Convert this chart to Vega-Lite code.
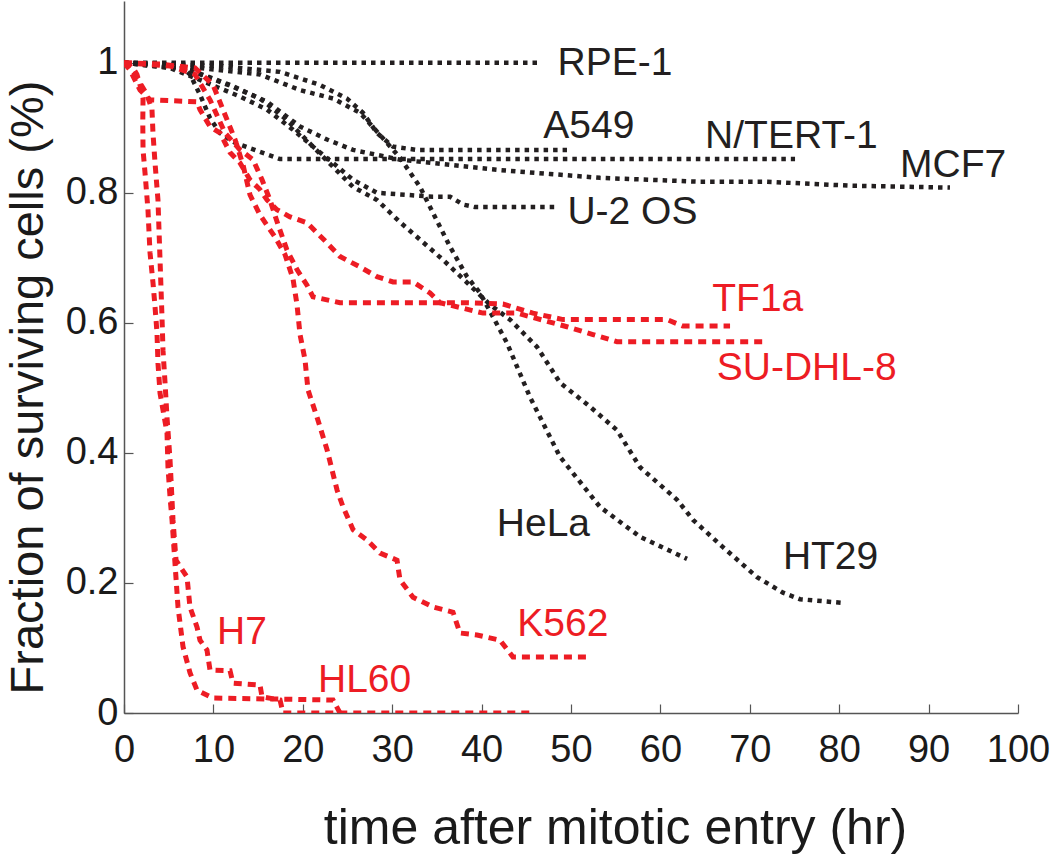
{
  "$schema": "https://vega.github.io/schema/vega-lite/v6.json",
  "width": 894,
  "height": 712,
  "autosize": {"type": "none"},
  "padding": {"left": 124, "top": 1, "right": 32, "bottom": 146},
  "background": "white",
  "config": {"view": {"stroke": null}, "font": "Liberation Sans"},
  "datasets": {
    "curves": [
      {"c":"RPE-1","g":"k","o":0,"t":0,"f":1},{"c":"RPE-1","g":"k","o":1,"t":46.5,"f":1},

      {"c":"A549","g":"k","o":0,"t":0,"f":1},{"c":"A549","g":"k","o":1,"t":10.74,"f":0.995},{"c":"A549","g":"k","o":2,"t":17.45,"f":0.986},{"c":"A549","g":"k","o":3,"t":21.92,"f":0.966},{"c":"A549","g":"k","o":4,"t":24.94,"f":0.945},{"c":"A549","g":"k","o":5,"t":26.73,"f":0.923},{"c":"A549","g":"k","o":6,"t":28.3,"f":0.892},{"c":"A549","g":"k","o":7,"t":30.09,"f":0.871},{"c":"A549","g":"k","o":8,"t":32.77,"f":0.866},{"c":"A549","g":"k","o":9,"t":49.55,"f":0.866},

      {"c":"HeLa","g":"k","o":0,"t":0,"f":1},{"c":"HeLa","g":"k","o":1,"t":8.5,"f":0.992},{"c":"HeLa","g":"k","o":2,"t":15.21,"f":0.982},{"c":"HeLa","g":"k","o":3,"t":19.69,"f":0.958},{"c":"HeLa","g":"k","o":4,"t":23.38,"f":0.945},{"c":"HeLa","g":"k","o":5,"t":26.4,"f":0.923},{"c":"HeLa","g":"k","o":6,"t":28.64,"f":0.889},{"c":"HeLa","g":"k","o":7,"t":30.87,"f":0.854},{"c":"HeLa","g":"k","o":8,"t":33.11,"f":0.809},{"c":"HeLa","g":"k","o":9,"t":34.56,"f":0.769},{"c":"HeLa","g":"k","o":10,"t":36.47,"f":0.717},{"c":"HeLa","g":"k","o":11,"t":38.37,"f":0.671},{"c":"HeLa","g":"k","o":12,"t":39.82,"f":0.646},{"c":"HeLa","g":"k","o":13,"t":41.28,"f":0.609},{"c":"HeLa","g":"k","o":14,"t":42.84,"f":0.569},{"c":"HeLa","g":"k","o":15,"t":45.41,"f":0.486},{"c":"HeLa","g":"k","o":16,"t":48.77,"f":0.394},{"c":"HeLa","g":"k","o":17,"t":53.24,"f":0.317},{"c":"HeLa","g":"k","o":18,"t":57.72,"f":0.271},{"c":"HeLa","g":"k","o":19,"t":62.98,"f":0.237},

      {"c":"MCF7","g":"k","o":0,"t":0,"f":1},{"c":"MCF7","g":"k","o":1,"t":7.38,"f":0.989},{"c":"MCF7","g":"k","o":2,"t":11.86,"f":0.966},{"c":"MCF7","g":"k","o":3,"t":16.0,"f":0.94},{"c":"MCF7","g":"k","o":4,"t":19.69,"f":0.902},{"c":"MCF7","g":"k","o":5,"t":22.71,"f":0.882},{"c":"MCF7","g":"k","o":6,"t":25.62,"f":0.866},{"c":"MCF7","g":"k","o":7,"t":30.87,"f":0.851},{"c":"MCF7","g":"k","o":8,"t":36.47,"f":0.843},{"c":"MCF7","g":"k","o":9,"t":42.06,"f":0.835},{"c":"MCF7","g":"k","o":10,"t":47.65,"f":0.829},{"c":"MCF7","g":"k","o":11,"t":53.24,"f":0.823},{"c":"MCF7","g":"k","o":12,"t":64.43,"f":0.817},{"c":"MCF7","g":"k","o":13,"t":71.92,"f":0.817},{"c":"MCF7","g":"k","o":14,"t":81.21,"f":0.811},{"c":"MCF7","g":"k","o":15,"t":92.39,"f":0.808},

      {"c":"N/TERT-1","g":"k","o":0,"t":0,"f":1},{"c":"N/TERT-1","g":"k","o":1,"t":6.26,"f":0.997},{"c":"N/TERT-1","g":"k","o":2,"t":7.38,"f":0.982},{"c":"N/TERT-1","g":"k","o":3,"t":8.5,"f":0.951},{"c":"N/TERT-1","g":"k","o":4,"t":9.62,"f":0.915},{"c":"N/TERT-1","g":"k","o":5,"t":10.74,"f":0.892},{"c":"N/TERT-1","g":"k","o":6,"t":12.42,"f":0.877},{"c":"N/TERT-1","g":"k","o":7,"t":15.21,"f":0.863},{"c":"N/TERT-1","g":"k","o":8,"t":17.45,"f":0.852},{"c":"N/TERT-1","g":"k","o":9,"t":75.06,"f":0.852},

      {"c":"U-2 OS","g":"k","o":0,"t":0,"f":1},{"c":"U-2 OS","g":"k","o":1,"t":5.15,"f":0.992},{"c":"U-2 OS","g":"k","o":2,"t":7.72,"f":0.978},{"c":"U-2 OS","g":"k","o":3,"t":12.98,"f":0.948},{"c":"U-2 OS","g":"k","o":4,"t":16.0,"f":0.928},{"c":"U-2 OS","g":"k","o":5,"t":18.9,"f":0.897},{"c":"U-2 OS","g":"k","o":6,"t":21.14,"f":0.871},{"c":"U-2 OS","g":"k","o":7,"t":23.38,"f":0.846},{"c":"U-2 OS","g":"k","o":8,"t":25.62,"f":0.82},{"c":"U-2 OS","g":"k","o":9,"t":28.3,"f":0.8},{"c":"U-2 OS","g":"k","o":10,"t":34.56,"f":0.794},{"c":"U-2 OS","g":"k","o":11,"t":36.47,"f":0.794},{"c":"U-2 OS","g":"k","o":12,"t":37.92,"f":0.782},{"c":"U-2 OS","g":"k","o":13,"t":39.26,"f":0.778},{"c":"U-2 OS","g":"k","o":14,"t":48.21,"f":0.778},

      {"c":"HT29","g":"k","o":0,"t":0,"f":1},{"c":"HT29","g":"k","o":1,"t":6.26,"f":0.994},{"c":"HT29","g":"k","o":2,"t":12.19,"f":0.963},{"c":"HT29","g":"k","o":3,"t":15.21,"f":0.945},{"c":"HT29","g":"k","o":4,"t":18.23,"f":0.912},{"c":"HT29","g":"k","o":5,"t":21.14,"f":0.871},{"c":"HT29","g":"k","o":6,"t":23.38,"f":0.84},{"c":"HT29","g":"k","o":7,"t":25.62,"f":0.809},{"c":"HT29","g":"k","o":8,"t":28.3,"f":0.789},{"c":"HT29","g":"k","o":9,"t":30.87,"f":0.755},{"c":"HT29","g":"k","o":10,"t":33.11,"f":0.728},{"c":"HT29","g":"k","o":11,"t":35.68,"f":0.697},{"c":"HT29","g":"k","o":12,"t":38.37,"f":0.662},{"c":"HT29","g":"k","o":13,"t":40.94,"f":0.628},{"c":"HT29","g":"k","o":14,"t":43.18,"f":0.605},{"c":"HT29","g":"k","o":15,"t":46.2,"f":0.563},{"c":"HT29","g":"k","o":16,"t":48.77,"f":0.508},{"c":"HT29","g":"k","o":17,"t":52.13,"f":0.471},{"c":"HT29","g":"k","o":18,"t":55.15,"f":0.435},{"c":"HT29","g":"k","o":19,"t":57.72,"f":0.378},{"c":"HT29","g":"k","o":20,"t":61.86,"f":0.328},{"c":"HT29","g":"k","o":21,"t":63.65,"f":0.297},{"c":"HT29","g":"k","o":22,"t":67.0,"f":0.255},{"c":"HT29","g":"k","o":23,"t":70.81,"f":0.209},{"c":"HT29","g":"k","o":24,"t":73.71,"f":0.185},{"c":"HT29","g":"k","o":25,"t":75.62,"f":0.175},{"c":"HT29","g":"k","o":26,"t":80.65,"f":0.169},

      {"c":"TF1a","g":"r","o":0,"t":0,"f":1},{"c":"TF1a","g":"r","o":1,"t":5.15,"f":0.995},{"c":"TF1a","g":"r","o":2,"t":7.94,"f":0.982},{"c":"TF1a","g":"r","o":3,"t":9.62,"f":0.943},{"c":"TF1a","g":"r","o":4,"t":11.3,"f":0.892},{"c":"TF1a","g":"r","o":5,"t":12.98,"f":0.866},{"c":"TF1a","g":"r","o":6,"t":14.43,"f":0.851},{"c":"TF1a","g":"r","o":7,"t":15.44,"f":0.82},{"c":"TF1a","g":"r","o":8,"t":16.33,"f":0.789},{"c":"TF1a","g":"r","o":9,"t":17.23,"f":0.751},{"c":"TF1a","g":"r","o":10,"t":18.23,"f":0.712},{"c":"TF1a","g":"r","o":11,"t":19.35,"f":0.682},{"c":"TF1a","g":"r","o":12,"t":20.47,"f":0.658},{"c":"TF1a","g":"r","o":13,"t":21.14,"f":0.64},{"c":"TF1a","g":"r","o":14,"t":24.16,"f":0.631},{"c":"TF1a","g":"r","o":15,"t":38.37,"f":0.631},{"c":"TF1a","g":"r","o":16,"t":42.39,"f":0.629},{"c":"TF1a","g":"r","o":17,"t":45.75,"f":0.615},{"c":"TF1a","g":"r","o":18,"t":49.11,"f":0.605},{"c":"TF1a","g":"r","o":19,"t":60.74,"f":0.605},{"c":"TF1a","g":"r","o":20,"t":62.53,"f":0.595},{"c":"TF1a","g":"r","o":21,"t":67.79,"f":0.595},

      {"c":"SU-DHL-8","g":"r","o":0,"t":0,"f":1},{"c":"SU-DHL-8","g":"r","o":1,"t":0.67,"f":0.989},{"c":"SU-DHL-8","g":"r","o":2,"t":1.79,"f":0.958},{"c":"SU-DHL-8","g":"r","o":3,"t":2.91,"f":0.943},{"c":"SU-DHL-8","g":"r","o":4,"t":8.17,"f":0.94},{"c":"SU-DHL-8","g":"r","o":5,"t":8.5,"f":0.928},{"c":"SU-DHL-8","g":"r","o":6,"t":9.62,"f":0.902},{"c":"SU-DHL-8","g":"r","o":7,"t":10.74,"f":0.892},{"c":"SU-DHL-8","g":"r","o":8,"t":11.86,"f":0.862},{"c":"SU-DHL-8","g":"r","o":9,"t":12.98,"f":0.846},{"c":"SU-DHL-8","g":"r","o":10,"t":14.09,"f":0.82},{"c":"SU-DHL-8","g":"r","o":11,"t":15.21,"f":0.805},{"c":"SU-DHL-8","g":"r","o":12,"t":16.0,"f":0.789},{"c":"SU-DHL-8","g":"r","o":13,"t":17.11,"f":0.774},{"c":"SU-DHL-8","g":"r","o":14,"t":18.57,"f":0.763},{"c":"SU-DHL-8","g":"r","o":15,"t":20.47,"f":0.754},{"c":"SU-DHL-8","g":"r","o":16,"t":22.71,"f":0.723},{"c":"SU-DHL-8","g":"r","o":17,"t":24.16,"f":0.702},{"c":"SU-DHL-8","g":"r","o":18,"t":26.4,"f":0.686},{"c":"SU-DHL-8","g":"r","o":19,"t":28.3,"f":0.671},{"c":"SU-DHL-8","g":"r","o":20,"t":30.09,"f":0.663},{"c":"SU-DHL-8","g":"r","o":21,"t":32.33,"f":0.663},{"c":"SU-DHL-8","g":"r","o":22,"t":34.23,"f":0.646},{"c":"SU-DHL-8","g":"r","o":23,"t":35.35,"f":0.631},{"c":"SU-DHL-8","g":"r","o":24,"t":40.16,"f":0.615},{"c":"SU-DHL-8","g":"r","o":25,"t":43.96,"f":0.615},{"c":"SU-DHL-8","g":"r","o":26,"t":49.55,"f":0.594},{"c":"SU-DHL-8","g":"r","o":27,"t":52.46,"f":0.582},{"c":"SU-DHL-8","g":"r","o":28,"t":55.15,"f":0.571},{"c":"SU-DHL-8","g":"r","o":29,"t":71.92,"f":0.571},

      {"c":"K562","g":"r","o":0,"t":0,"f":1},{"c":"K562","g":"r","o":1,"t":4.03,"f":0.998},{"c":"K562","g":"r","o":2,"t":7.94,"f":0.992},{"c":"K562","g":"r","o":3,"t":9.96,"f":0.966},{"c":"K562","g":"r","o":4,"t":11.3,"f":0.92},{"c":"K562","g":"r","o":5,"t":12.42,"f":0.882},{"c":"K562","g":"r","o":6,"t":13.31,"f":0.843},{"c":"K562","g":"r","o":7,"t":14.09,"f":0.797},{"c":"K562","g":"r","o":8,"t":15.21,"f":0.766},{"c":"K562","g":"r","o":9,"t":16.89,"f":0.732},{"c":"K562","g":"r","o":10,"t":18.01,"f":0.705},{"c":"K562","g":"r","o":11,"t":18.9,"f":0.668},{"c":"K562","g":"r","o":12,"t":19.35,"f":0.628},{"c":"K562","g":"r","o":13,"t":19.69,"f":0.582},{"c":"K562","g":"r","o":14,"t":20.25,"f":0.543},{"c":"K562","g":"r","o":15,"t":20.58,"f":0.497},{"c":"K562","g":"r","o":16,"t":21.59,"f":0.455},{"c":"K562","g":"r","o":17,"t":22.71,"f":0.405},{"c":"K562","g":"r","o":18,"t":23.83,"f":0.343},{"c":"K562","g":"r","o":19,"t":24.5,"f":0.317},{"c":"K562","g":"r","o":20,"t":25.62,"f":0.282},{"c":"K562","g":"r","o":21,"t":27.18,"f":0.266},{"c":"K562","g":"r","o":22,"t":28.64,"f":0.246},{"c":"K562","g":"r","o":23,"t":30.54,"f":0.235},{"c":"K562","g":"r","o":24,"t":30.87,"f":0.205},{"c":"K562","g":"r","o":25,"t":32.33,"f":0.178},{"c":"K562","g":"r","o":26,"t":34.56,"f":0.163},{"c":"K562","g":"r","o":27,"t":36.8,"f":0.155},{"c":"K562","g":"r","o":28,"t":37.58,"f":0.123},{"c":"K562","g":"r","o":29,"t":39.49,"f":0.12},{"c":"K562","g":"r","o":30,"t":42.06,"f":0.112},{"c":"K562","g":"r","o":31,"t":43.51,"f":0.086},{"c":"K562","g":"r","o":32,"t":52.13,"f":0.086},

      {"c":"H7","g":"r","o":0,"t":0,"f":1},{"c":"H7","g":"r","o":1,"t":0.67,"f":0.995},{"c":"H7","g":"r","o":2,"t":1.57,"f":0.974},{"c":"H7","g":"r","o":3,"t":2.57,"f":0.951},{"c":"H7","g":"r","o":4,"t":3.13,"f":0.928},{"c":"H7","g":"r","o":5,"t":3.24,"f":0.892},{"c":"H7","g":"r","o":6,"t":3.47,"f":0.846},{"c":"H7","g":"r","o":7,"t":3.8,"f":0.789},{"c":"H7","g":"r","o":8,"t":4.03,"f":0.697},{"c":"H7","g":"r","o":9,"t":4.25,"f":0.609},{"c":"H7","g":"r","o":10,"t":4.36,"f":0.558},{"c":"H7","g":"r","o":11,"t":4.59,"f":0.508},{"c":"H7","g":"r","o":12,"t":4.81,"f":0.455},{"c":"H7","g":"r","o":13,"t":5.15,"f":0.389},{"c":"H7","g":"r","o":14,"t":5.48,"f":0.297},{"c":"H7","g":"r","o":15,"t":5.82,"f":0.235},{"c":"H7","g":"r","o":16,"t":7.05,"f":0.209},{"c":"H7","g":"r","o":17,"t":7.38,"f":0.163},{"c":"H7","g":"r","o":18,"t":8.17,"f":0.132},{"c":"H7","g":"r","o":19,"t":8.5,"f":0.112},{"c":"H7","g":"r","o":20,"t":9.28,"f":0.097},{"c":"H7","g":"r","o":21,"t":9.62,"f":0.066},{"c":"H7","g":"r","o":22,"t":11.86,"f":0.065},{"c":"H7","g":"r","o":23,"t":12.19,"f":0.046},{"c":"H7","g":"r","o":24,"t":15.21,"f":0.043},{"c":"H7","g":"r","o":25,"t":15.44,"f":0.025},{"c":"H7","g":"r","o":26,"t":17.45,"f":0.02},{"c":"H7","g":"r","o":27,"t":17.79,"f":0},{"c":"H7","g":"r","o":28,"t":45.41,"f":0},

      {"c":"HL60","g":"r","o":0,"t":0,"f":1},{"c":"HL60","g":"r","o":1,"t":0.45,"f":0.998},{"c":"HL60","g":"r","o":2,"t":1.01,"f":0.992},{"c":"HL60","g":"r","o":3,"t":1.45,"f":0.982},{"c":"HL60","g":"r","o":4,"t":1.79,"f":0.966},{"c":"HL60","g":"r","o":5,"t":2.13,"f":0.945},{"c":"HL60","g":"r","o":6,"t":2.1,"f":0.908},{"c":"HL60","g":"r","o":7,"t":2.13,"f":0.866},{"c":"HL60","g":"r","o":8,"t":2.35,"f":0.831},{"c":"HL60","g":"r","o":9,"t":2.68,"f":0.774},{"c":"HL60","g":"r","o":10,"t":2.91,"f":0.708},{"c":"HL60","g":"r","o":11,"t":3.24,"f":0.662},{"c":"HL60","g":"r","o":12,"t":3.47,"f":0.625},{"c":"HL60","g":"r","o":13,"t":3.69,"f":0.585},{"c":"HL60","g":"r","o":14,"t":3.8,"f":0.538},{"c":"HL60","g":"r","o":15,"t":4.03,"f":0.492},{"c":"HL60","g":"r","o":16,"t":4.81,"f":0.431},{"c":"HL60","g":"r","o":17,"t":4.92,"f":0.378},{"c":"HL60","g":"r","o":18,"t":5.15,"f":0.332},{"c":"HL60","g":"r","o":19,"t":5.37,"f":0.297},{"c":"HL60","g":"r","o":20,"t":5.7,"f":0.231},{"c":"HL60","g":"r","o":21,"t":6.04,"f":0.163},{"c":"HL60","g":"r","o":22,"t":6.6,"f":0.102},{"c":"HL60","g":"r","o":23,"t":7.38,"f":0.062},{"c":"HL60","g":"r","o":24,"t":8.17,"f":0.035},{"c":"HL60","g":"r","o":25,"t":9.96,"f":0.023},{"c":"HL60","g":"r","o":26,"t":23.38,"f":0.02},{"c":"HL60","g":"r","o":27,"t":24.16,"f":0},{"c":"HL60","g":"r","o":28,"t":24.72,"f":0}
    ],
    "labels": [
      {"label":"RPE-1","g":"k","t":48.5,"f":1.0},
      {"label":"A549","g":"k","t":46.9,"f":0.902},
      {"label":"N/TERT-1","g":"k","t":65.0,"f":0.888},
      {"label":"MCF7","g":"k","t":86.8,"f":0.843},
      {"label":"U-2 OS","g":"k","t":49.6,"f":0.771},
      {"label":"HeLa","g":"k","t":41.7,"f":0.291},
      {"label":"HT29","g":"k","t":73.7,"f":0.24},
      {"label":"TF1a","g":"r","t":65.8,"f":0.637},
      {"label":"SU-DHL-8","g":"r","t":66.3,"f":0.531},
      {"label":"K562","g":"r","t":44.0,"f":0.137},
      {"label":"H7","g":"r","t":10.4,"f":0.125},
      {"label":"HL60","g":"r","t":21.7,"f":0.051}
    ]
  },
  "encoding": {
    "x": {
      "field": "t", "type": "quantitative",
      "scale": {"domain": [0, 100], "nice": false, "zero": false},
      "axis": {
        "values": [0, 10, 20, 30, 40, 50, 60, 70, 80, 90, 100],
        "grid": false, "tickSize": -9, "tickWidth": 1.2, "tickColor": "#555", "domainColor": "#555", "domainWidth": 1.5,
        "labelFontSize": 38, "labelPadding": 27, "labelColor": "#1a1a1a", "labelFlush": false, "labelOverlap": false,
        "title": "time after mitotic entry (hr)", "titleFontSize": 50, "titleFontWeight": "normal", "titleColor": "#1a1a1a",
        "titleX": 491, "titleY": 115, "titleBaseline": "middle", "titleAlign": "center", "titleAnchor": null
      }
    },
    "y": {
      "field": "f", "type": "quantitative",
      "scale": {"domain": [0, 1.095], "nice": false, "zero": false},
      "axis": {
        "values": [0, 0.2, 0.4, 0.6, 0.8, 1], "format": "~g",
        "grid": false, "tickSize": -9, "tickWidth": 1.2, "tickColor": "#555", "domainColor": "#555", "domainWidth": 1.5,
        "labelFontSize": 38, "labelPadding": 15, "labelColor": "#1a1a1a", "labelOverlap": false,
        "title": "Fraction of surviving cells (%)", "titleFontSize": 47, "titleFontWeight": "normal", "titleColor": "#1a1a1a",
        "titleX": -96, "titleY": 386, "titleAngle": -90, "titleBaseline": "middle", "titleAlign": "center"
      }
    }
  },
  "layer": [
    {
      "data": {"name": "curves"},
      "transform": [{"filter": "datum.g == 'k'"}],
      "mark": {"type": "line", "color": "#231f20", "strokeWidth": 4.5, "strokeDash": [4.5, 5], "strokeCap": "butt", "clip": true},
      "encoding": {"detail": {"field": "c"}, "order": {"field": "o", "type": "quantitative"}}
    },
    {
      "data": {"name": "curves"},
      "transform": [{"filter": "datum.g == 'r'"}],
      "mark": {"type": "line", "color": "#ed1c24", "strokeWidth": 5, "strokeDash": [8, 6], "strokeCap": "butt", "clip": true},
      "encoding": {"detail": {"field": "c"}, "order": {"field": "o", "type": "quantitative"}}
    },
    {
      "data": {"name": "labels"},
      "mark": {"type": "text", "align": "left", "baseline": "middle", "fontSize": 39},
      "encoding": {
        "text": {"field": "label"},
        "color": {"field": "g", "type": "nominal", "scale": {"domain": ["k", "r"], "range": ["#231f20", "#ed1c24"]}, "legend": null}
      }
    }
  ]
}
